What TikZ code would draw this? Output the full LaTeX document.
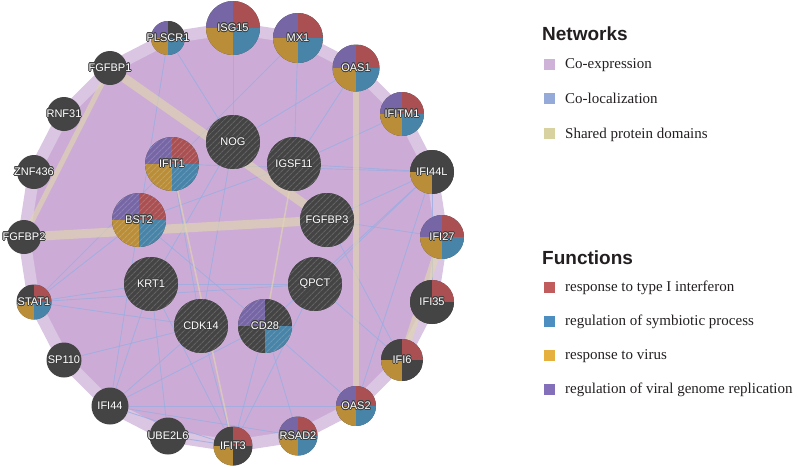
\documentclass[tikz,border=0pt]{standalone}
\usepackage{fontspec}
\setmainfont{Liberation Serif}
\newfontfamily\genefont{Liberation Sans}
\usepackage{contour}
\contourlength{0.7pt}
\usetikzlibrary{patterns.meta,backgrounds}

\definecolor{nodegray}{RGB}{68,68,68}
\definecolor{fnred}{RGB}{170,80,82}
\definecolor{fnblue}{RGB}{72,132,168}
\definecolor{fngold}{RGB}{186,142,56}
\definecolor{fnpurple}{RGB}{118,102,166}
\definecolor{lgred}{RGB}{192,92,92}
\definecolor{lgblue}{RGB}{76,142,192}
\definecolor{lggold}{RGB}{230,176,62}
\definecolor{lgpurple}{RGB}{132,112,186}
\definecolor{coexpcol}{RGB}{204,172,214}
\definecolor{coexplight}{RGB}{218,198,226}
\definecolor{coloccol}{RGB}{152,172,226}
\definecolor{domaincol}{RGB}{224,214,176}
\definecolor{legcoexp}{RGB}{206,178,216}
\definecolor{legcoloc}{RGB}{150,170,218}
\definecolor{legdomain}{RGB}{216,210,160}
\definecolor{legtext}{RGB}{35,31,32}

\newcommand{\gname}[1]{\makebox[0pt]{\contour{black!75}{#1}}}

\tikzset{
  gene/.style={circle, fill=nodegray, inner sep=0pt, minimum size=#1,
    text=white, font=\genefont\fontsize{11}{13}\selectfont},
  pie/.style n args={4}{path picture={
    \fill[#1] (path picture bounding box.center) rectangle (path picture bounding box.north east);
    \fill[#2] (path picture bounding box.center) rectangle (path picture bounding box.south east);
    \fill[#3] (path picture bounding box.center) rectangle (path picture bounding box.south west);
    \fill[#4] (path picture bounding box.center) rectangle (path picture bounding box.north west);}},
  qpie/.style n args={4}{path picture={
    \fill[#1] (path picture bounding box.center) rectangle (path picture bounding box.north east);
    \fill[#2] (path picture bounding box.center) rectangle (path picture bounding box.south east);
    \fill[#3] (path picture bounding box.center) rectangle (path picture bounding box.south west);
    \fill[#4] (path picture bounding box.center) rectangle (path picture bounding box.north west);
    \fill[pattern={Lines[angle=45,distance=4pt,line width=1.1pt]}, pattern color=white, fill opacity=0.17]
      (path picture bounding box.south west) rectangle (path picture bounding box.north east);}},
  allfn/.style={pie={fnred}{fnblue}{fngold}{fnpurple}},
  query/.style={gene=54, qpie={nodegray}{nodegray}{nodegray}{nodegray}},
  colocedge/.style={draw=coloccol, line width=0.9pt, opacity=0.75},
  domainedge/.style={draw=domaincol, line width=#1, opacity=0.65},
  legbox/.style={minimum size=11pt, inner sep=0pt},
  legtitle/.style={inner sep=0pt, text=legtext, font=\genefont\bfseries\fontsize{19}{22}\selectfont},
  legitem/.style={inner sep=0pt, text=legtext, font=\fontsize{15}{18}\selectfont}
}

\begin{document}
\begin{tikzpicture}[x=1pt,y=-1pt]
\useasboundingbox (0,0) rectangle (798,467);

% outer ring of related genes
\node[gene=54, allfn] (ISG15) at (233,28) {\gname{ISG15}};
\node[gene=50, allfn] (MX1) at (298,38) {\gname{MX1}};
\node[gene=47, allfn] (OAS1) at (356,68) {\gname{OAS1}};
\node[gene=44, allfn] (IFITM1) at (402,114) {\gname{IFITM1}};
\node[gene=44, pie={nodegray}{nodegray}{fngold}{nodegray}] (IFI44L) at (432,172) {\gname{IFI44L}};
\node[gene=44, allfn] (IFI27) at (442,237) {\gname{IFI27}};
\node[gene=44, pie={fnred}{nodegray}{nodegray}{nodegray}] (IFI35) at (432,302) {\gname{IFI35}};
\node[gene=42, pie={fnred}{nodegray}{fngold}{nodegray}] (IFI6) at (402,360) {\gname{IFI6}};
\node[gene=40, allfn] (OAS2) at (356,406) {\gname{OAS2}};
\node[gene=39, allfn] (RSAD2) at (298,436) {\gname{RSAD2}};
\node[gene=39, pie={fnred}{nodegray}{fngold}{nodegray}] (IFIT3) at (233,446) {\gname{IFIT3}};
\node[gene=37] (UBE2L6) at (168,436) {\gname{UBE2L6}};
\node[gene=37] (IFI44) at (110,406) {\gname{IFI44}};
\node[gene=35] (SP110) at (64,360) {\gname{SP110}};
\node[gene=35, pie={fnred}{fnblue}{fngold}{nodegray}] (STAT1) at (34,302) {\gname{STAT1}};
\node[gene=34] (FGFBP2) at (24,237) {\gname{FGFBP2}};
\node[gene=34] (ZNF436) at (34,172) {\gname{ZNF436}};
\node[gene=34] (RNF31) at (64,114) {\gname{RNF31}};
\node[gene=34] (FGFBP1) at (110,68) {\gname{FGFBP1}};
\node[gene=34, pie={nodegray}{fnblue}{fngold}{fnpurple}] (PLSCR1) at (168,38) {\gname{PLSCR1}};

% inner ring of query genes (hatched)
\node[query] (NOG) at (233,142) {\gname{NOG}};
\node[query] (IGSF11) at (294,164) {\gname{IGSF11}};
\node[query] (FGFBP3) at (327,220) {\gname{FGFBP3}};
\node[query] (QPCT) at (315,284) {\gname{QPCT}};
\node[query, qpie={nodegray}{fnblue}{nodegray}{fnpurple}] (CD28) at (265,326) {\gname{CD28}};
\node[query] (CDK14) at (201,326) {\gname{CDK14}};
\node[query] (KRT1) at (151,284) {\gname{KRT1}};
\node[query, qpie={fnred}{fnblue}{fngold}{fnpurple}] (BST2) at (139,220) {\gname{BST2}};
\node[query, qpie={fnred}{fnblue}{fngold}{fnpurple}] (IFIT1) at (172,164) {\gname{IFIT1}};

\begin{scope}[on background layer]
% co-expression mass
\filldraw[fill=coexpcol, draw=coexplight, line width=12pt, line join=round]
  (ISG15.center) -- (MX1.center) -- (OAS1.center) -- (IFITM1.center) -- (IFI44L.center)
  -- (IFI27.center) -- (IFI35.center) -- (IFI6.center) -- (OAS2.center) -- (RSAD2.center)
  -- (IFIT3.center) -- (UBE2L6.center) -- (IFI44.center) -- (SP110.center) -- (STAT1.center)
  -- (FGFBP2.center) -- (ZNF436.center) -- (RNF31.center) -- (FGFBP1.center) -- (PLSCR1.center) -- cycle;

% co-localization
\draw[colocedge] (STAT1) -- (KRT1);
\draw[colocedge] (STAT1) -- (CDK14);
\draw[colocedge] (STAT1) -- (IFIT1);
\draw[colocedge] (STAT1) -- (QPCT);
\draw[colocedge] (STAT1) -- (BST2);
\draw[colocedge] (SP110) -- (CDK14);
\draw[colocedge] (IFI44) -- (KRT1);
\draw[colocedge] (IFI44) -- (CDK14);
\draw[colocedge] (IFI44) -- (CD28);
\draw[colocedge] (IFI44) -- (OAS2);
\draw[colocedge] (IFI44) -- (IFIT3);
\draw[colocedge] (IFI44) -- (BST2);
\draw[colocedge] (UBE2L6) -- (IFIT3);
\draw[colocedge] (UBE2L6) -- (KRT1);
\draw[colocedge] (IFIT3) -- (CDK14);
\draw[colocedge] (IFIT3) -- (CD28);
\draw[colocedge] (IFIT3) -- (QPCT);
\draw[colocedge] (IFIT3) -- (KRT1);
\draw[colocedge] (RSAD2) -- (CD28);
\draw[colocedge] (RSAD2) -- (IFI44);
\draw[colocedge] (OAS2) -- (IFI44L);
\draw[colocedge] (OAS2) -- (CD28);
\draw[colocedge] (IFI6) -- (FGFBP3);
\draw[colocedge] (IFI6) -- (QPCT);
\draw[colocedge] (IFI27) -- (FGFBP3);
\draw[colocedge] (IFI35) -- (IFI44L);
\draw[colocedge] (IFI44L) -- (IGSF11);
\draw[colocedge] (IFI44L) -- (IFIT1);
\draw[colocedge] (IFI44L) -- (FGFBP3);
\draw[colocedge] (IFI44L) -- (CD28);
\draw[colocedge] (IFI44L) -- (QPCT);
\draw[colocedge] (IFITM1) -- (IGSF11);
\draw[colocedge] (OAS1) -- (IGSF11);
\draw[colocedge] (OAS1) -- (NOG);
\draw[colocedge] (MX1) -- (IFIT1);
\draw[colocedge] (MX1) -- (IGSF11);
\draw[colocedge] (ISG15) -- (NOG);
\draw[colocedge] (PLSCR1) -- (NOG);
\draw[colocedge] (PLSCR1) -- (BST2);
\draw[colocedge] (NOG) -- (KRT1);
\draw[colocedge] (NOG) -- (CDK14);
\draw[colocedge] (IGSF11) -- (BST2);
\draw[colocedge] (IFIT1) -- (CDK14);
\draw[colocedge] (BST2) -- (CD28);
\draw[colocedge] (KRT1) -- (QPCT);

% shared protein domains
\draw[domainedge=9pt] (FGFBP1) -- (FGFBP3);
\draw[domainedge=9pt] (FGFBP2) -- (FGFBP3);
\draw[domainedge=5pt] (FGFBP1) -- (FGFBP2);
\draw[domainedge=6pt] (OAS1) -- (OAS2);
\draw[domainedge=7pt] (IFI27) -- (IFI6);
\draw[domainedge=1.5pt] (IFIT1) -- (IFIT3);
\draw[domainedge=1.5pt] (IGSF11) -- (CD28);
\end{scope}

% legend: networks
\node[legtitle, anchor=base west] (netTitle) at (542,40) {Networks};
\node[legbox, fill=legcoexp] (coexpBox) at (549.5,64.5) {};
\node[legitem, anchor=base west] (coexpText) at (565,68) {Co-expression};
\node[legbox, fill=legcoloc] (colocBox) at (549.5,98.5) {};
\node[legitem, anchor=base west] (colocText) at (565,103) {Co-localization};
\node[legbox, fill=legdomain] (domainBox) at (549.5,133.5) {};
\node[legitem, anchor=base west] (domainText) at (565,138) {Shared protein domains};

% legend: functions
\node[legtitle, anchor=base west] (fnTitle) at (542,264) {Functions};
\node[legbox, fill=lgred] (ifnBox) at (549.5,287.5) {};
\node[legitem, anchor=base west] (ifnText) at (565,291) {response to type I interferon};
\node[legbox, fill=lgblue] (symbBox) at (549.5,321.5) {};
\node[legitem, anchor=base west] (symbText) at (565,325) {regulation of symbiotic process};
\node[legbox, fill=lggold] (virusBox) at (549.5,355.5) {};
\node[legitem, anchor=base west] (virusText) at (565,359) {response to virus};
\node[legbox, fill=lgpurple] (replBox) at (549.5,389.5) {};
\node[legitem, anchor=base west] (replText) at (565,393) {regulation of viral genome replication};
\end{tikzpicture}
\end{document}
